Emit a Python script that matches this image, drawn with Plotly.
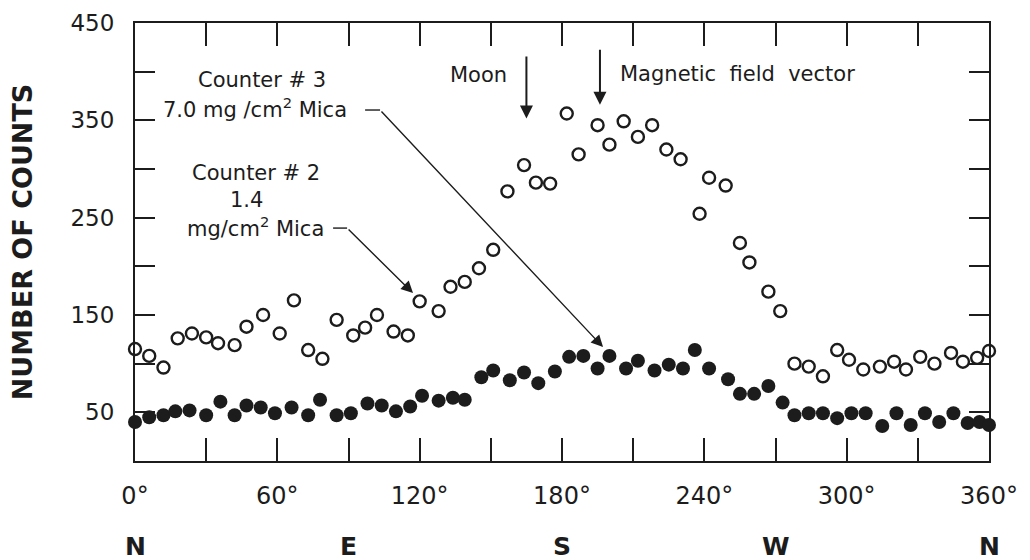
import plotly.graph_objects as go

# ---- data ----
counter2_deg = [0, 6, 12, 18, 24, 30, 35, 42, 47, 54, 61, 67, 73, 79, 85, 92, 97, 102, 109, 115,
                120, 128, 133, 139, 145, 151, 157, 164, 169, 175, 182, 187, 195, 200, 206, 212, 218, 224, 230, 238,
                242, 249, 255, 259, 267, 272, 278, 284, 290, 296, 301, 307, 314, 320, 325, 331, 337, 344, 349, 355, 360]
counter2_counts = [115, 108, 96, 126, 131, 127, 121, 119, 138, 150, 131, 165, 114, 105, 145, 129, 137, 150, 133, 129,
                   164, 154, 179, 184, 198, 217, 277, 304, 286, 285, 357, 315, 345, 325, 349, 333, 345, 320, 310, 254,
                   291, 283, 224, 204, 174, 154, 100, 97, 87, 114, 104, 94, 97, 102, 94, 107, 100, 111, 102, 106, 113]

counter3_deg = [0, 6, 12, 17, 23, 30, 36, 42, 47, 53, 59, 66, 73, 78, 85, 91, 98, 104, 110, 116,
                121, 128, 134, 139, 146, 151, 158, 164, 170, 177, 183, 189, 195, 200, 207, 212, 219, 225, 231, 236,
                242, 250, 255, 261, 267, 273, 278, 284, 290, 296, 302, 308, 315, 321, 327, 333, 339, 345, 351, 356, 360]
counter3_counts = [40, 45, 47, 51, 52, 47, 61, 47, 57, 55, 49, 55, 47, 63, 47, 49, 59, 57, 51, 56,
                   67, 62, 65, 63, 86, 93, 83, 91, 80, 92, 107, 108, 95, 108, 95, 103, 93, 99, 95, 114,
                   95, 84, 69, 69, 77, 60, 47, 49, 49, 44, 49, 49, 36, 49, 37, 49, 40, 49, 39, 40, 37]

x_tickvals = list(range(0, 361, 30))
x_ticktext = ["0°", "", "60°", "", "120°", "", "180°", "", "240°", "", "300°", "", "360°"]
y_tickvals = list(range(50, 451, 50))
y_ticktext = ["50", "", "150", "", "250", "", "350", "", "450"]
compass_deg = [0, 90, 180, 270, 360]
compass_lbl = ["N", "E", "S", "W", "N"]

INK = "#1c1c1c"
FONT = "DejaVu Sans"

fig = go.Figure()
fig.add_trace(go.Scatter(
    x=counter2_deg, y=counter2_counts, mode="markers", name="Counter #2",
    marker=dict(symbol="circle-open", size=12, color=INK, line=dict(width=2.4, color=INK)),
    cliponaxis=False, showlegend=False))
fig.add_trace(go.Scatter(
    x=counter3_deg, y=counter3_counts, mode="markers", name="Counter #3",
    marker=dict(symbol="circle", size=14, color=INK, line=dict(width=0)),
    cliponaxis=False, showlegend=False))

ann = []
txt = dict(family=FONT, size=21, color=INK)
# Counter 3 label
ann.append(dict(x=53.5, y=391, text="Counter # 3", showarrow=False, font=txt, xanchor="center", yanchor="middle"))
ann.append(dict(x=50.4, y=363, text="7.0 mg /cm<sup>2</sup> Mica", showarrow=False, font=txt, xanchor="center", yanchor="middle"))
# Counter 2 label
ann.append(dict(x=51, y=296, text="Counter # 2", showarrow=False, font=txt, xanchor="center", yanchor="middle"))
ann.append(dict(x=47.2, y=268, text="1.4", showarrow=False, font=txt, xanchor="center", yanchor="middle"))
ann.append(dict(x=50.6, y=240, text="mg/cm<sup>2</sup> Mica", showarrow=False, font=txt, xanchor="center", yanchor="middle"))
# Moon / magnetic
ann.append(dict(x=145, y=397, text="Moon", showarrow=False, font=txt, xanchor="center", yanchor="middle"))
ann.append(dict(x=203.6, y=398, text="Magnetic  field  vector", showarrow=False, font=txt, xanchor="left", yanchor="middle"))

arrow_common = dict(text="", showarrow=True, axref="x", ayref="y", arrowcolor=INK,
                    arrowhead=2, standoff=0, startstandoff=0)
ann.append(dict(x=165, y=352, ax=165, ay=417, arrowwidth=2, arrowsize=1.3, **arrow_common))
ann.append(dict(x=196, y=366, ax=196, ay=424, arrowwidth=2, arrowsize=1.3, **arrow_common))
ann.append(dict(x=197.3, y=117, ax=103.3, ay=360.6, arrowwidth=1.4, arrowsize=1.7, **arrow_common))
ann.append(dict(x=117.2, y=172.5, ax=89.4, ay=239.3, arrowwidth=1.4, arrowsize=1.7, **arrow_common))

for d, l in zip(compass_deg, compass_lbl):
    ann.append(dict(x=d, y=-0.196, xref="x", yref="paper", text="<b>" + l + "</b>", showarrow=False,
                    font=dict(family=FONT, size=25, color=INK), xanchor="center", yanchor="middle"))

ann.append(dict(x=-0.132, y=0.5, xref="paper", yref="paper", text="<b>NUMBER OF COUNTS</b>", textangle=-90,
                showarrow=False, font=dict(family=FONT, size=27, color=INK), xanchor="center", yanchor="middle"))

fig.update_layout(annotations=ann)

shapes = [
    dict(type="line", x0=97, y0=360.6, x1=103.3, y1=360.6, line=dict(color=INK, width=1.4)),
    dict(type="line", x0=83.5, y0=239.3, x1=89.4, y1=239.3, line=dict(color=INK, width=1.4)),
]
fig.update_layout(shapes=shapes)

fig.update_xaxes(range=[0, 360], tickvals=x_tickvals, ticktext=x_ticktext, ticks="inside", ticklen=23,
                 tickwidth=2, tickcolor=INK, showline=True, linewidth=2, linecolor=INK, mirror="ticks",
                 showgrid=False, zeroline=False, tickfont=dict(family=FONT, size=24, color=INK),
                 ticklabelstandoff=12, automargin=False)
fig.update_yaxes(range=[0, 450], tickvals=y_tickvals, ticktext=y_ticktext, ticks="inside", ticklen=20,
                 tickwidth=2, tickcolor=INK, showline=True, linewidth=2, linecolor=INK, mirror="ticks",
                 showgrid=False, zeroline=False, tickfont=dict(family=FONT, size=23, color=INK),
                 ticklabelstandoff=14, automargin=False)

# page body adds an 8px offset, so the figure is sized to fit the 1030x560 window
fig.update_layout(width=1022, height=552, margin=dict(l=127, r=41, t=15, b=99, autoexpand=False),
                  paper_bgcolor="white", plot_bgcolor="white", showlegend=False,
                  font=dict(family=FONT, color=INK))

fig.write_html("out.html")
